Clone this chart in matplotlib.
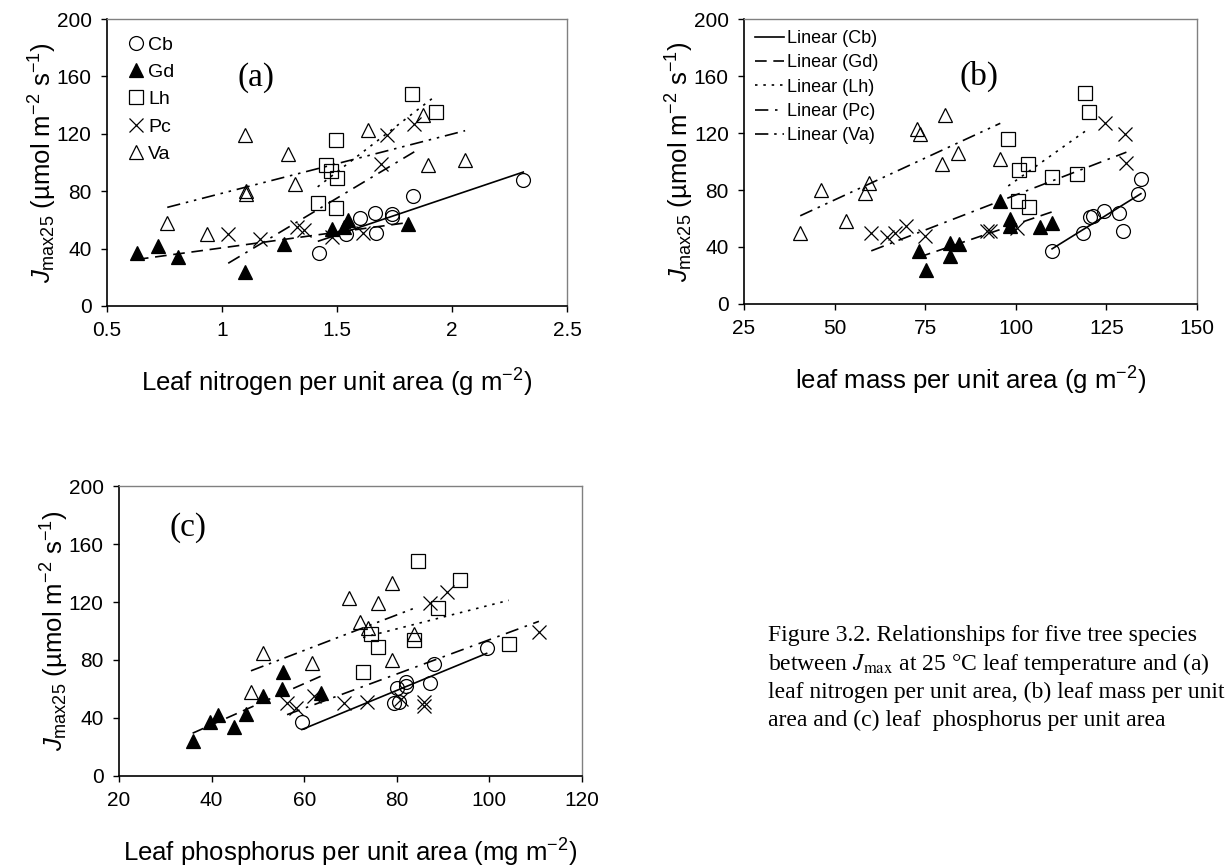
import numpy as np
import matplotlib
matplotlib.use('Agg')
import matplotlib.pyplot as plt
from matplotlib.lines import Line2D

nan = np.nan

# Jmax25 for each species with the matching leaf N (g m-2), LMA (g m-2) and P (mg m-2)
# nan = point not visible in that panel
cb_j = [37, 50, 51, 61, 62, 64, 65, 77, 88]
cb_n = [1.42, 1.54, 1.67, 1.60, 1.74, 1.74, 1.665, 1.83, 2.31]
cb_lma = [110, 118.6, 129.6, 120.4, 121.3, 128.5, 124.3, 133.6, 134.5]
cb_p = [59.5, 79.5, 80.4, 80, 82, 87.2, 82, 88.1, 99.4]

gd_j = [37, 42, 34, 24, 43, 54, 55, 60, 57, 72]
gd_n = [0.63, 0.72, 0.81, 1.10, 1.27, 1.48, 1.53, 1.55, 1.81, nan]
gd_lma = [73.3, 84.3, 81.9, 75.2, 81.9, 106.6, 98.3, 98.3, 109.9, 95.6]
gd_p = [39.6, 41.3, 44.9, 35.9, 47.5, nan, 51.2, 55.1, 63.7, 55.5]

lh_j = [148, 135, 116, 98, 94, 91, 89, 72, 68]
lh_n = [1.825, 1.93, 1.496, 1.452, 1.472, nan, 1.499, 1.416, 1.496]
lh_lma = [119.1, 120.2, 97.9, 103.4, 100.8, 117, 109.9, 100.6, 103.6]
lh_p = [84.6, 93.6, 89.0, 74.5, 83.8, 104.2, 75.9, 72.7, nan]

pc_j = [50, 47, 50, 55, 48, 51, 51, 53, 127, 119, 99]
pc_n = [1.027, 1.165, nan, 1.325, 1.48, 1.614, nan, 1.357, 1.836, 1.716, 1.691]
pc_lma = [60.1, 64.4, 66.7, 69.7, 75, 92, 93, 100.4, 124.5, 130.2, 130.5]
pc_p = [56.3, 58.2, 68.6, 62.1, 85.8, 73.5, 85.8, 81, 90.9, 87.1, 110.7]

va_j = [50, 58, 80, 78, 85, 106, 119, 123, 133, 98, 102]
va_n = [0.933, 0.762, 1.104, 1.104, 1.317, 1.285, 1.1, 1.633, 1.875, 1.897, 2.057]
va_lma = [40.5, 53.1, 46.3, 58.4, 59.6, 84, 73.6, 72.7, 80.5, 79.6, 95.7]
va_p = [nan, 48.5, 79, 61.6, 51.2, 72.1, 76, 69.7, 79, 83.7, 73.8]

species = ['Cb', 'Gd', 'Lh', 'Pc', 'Va']
j_vals = [cb_j, gd_j, lh_j, pc_j, va_j]
n_vals = [cb_n, gd_n, lh_n, pc_n, va_n]
lma_vals = [cb_lma, gd_lma, lh_lma, pc_lma, va_lma]
p_vals = [cb_p, gd_p, lh_p, pc_p, va_p]

yticks = [0, 40, 80, 120, 160, 200]
n_ticks = [0.5, 1, 1.5, 2, 2.5]
n_ticklabels = ['0.5', '1', '1.5', '2', '2.5']
lma_ticks = [25, 50, 75, 100, 125, 150]
p_ticks = [20, 40, 60, 80, 100, 120]

# marker and trendline styles
mk = [dict(marker='o', mfc='none', ms=10),
      dict(marker='^', mfc='black', ms=10),
      dict(marker='s', mfc='none', ms=9.5),
      dict(marker='x', mfc='none', ms=10),
      dict(marker='^', mfc='none', ms=10)]
ls = ['-', (0, (7, 4)), (0, (1.5, 3.5)), (0, (8, 4, 1.5, 4)), (0, (8, 3.5, 1.5, 3.5, 1.5, 3.5))]

plt.rcParams['font.family'] = ['Liberation Sans', 'DejaVu Sans']
plt.rcParams['mathtext.fontset'] = 'custom'
plt.rcParams['mathtext.rm'] = 'Liberation Sans'
plt.rcParams['mathtext.it'] = 'Liberation Sans:italic'

fig = plt.figure(figsize=(12.27, 8.67), dpi=100)
ax_a = fig.add_axes([0.0872, 0.6471, 0.3749, 0.3309])
ax_b = fig.add_axes([0.6064, 0.6494, 0.3692, 0.3286])
ax_c = fig.add_axes([0.0970, 0.1050, 0.3773, 0.3344])

ylab = r'$J_{\mathrm{max25}}$ (µmol m$^{-2}$ s$^{-1}$)'


def panel(ax, xs_all, xlim, xticks, xticklabels, xlabel, tag, tagpos):
    for i in range(5):
        x = np.array(xs_all[i], dtype=float)
        y = np.array(j_vals[i], dtype=float)
        ok = ~np.isnan(x)
        ax.plot(x[ok], y[ok], ls='none', mec='black', mew=0.9, color='black', zorder=2, **mk[i])
        b, a = np.polyfit(x[ok], y[ok], 1)
        xx = np.array([x[ok].min(), x[ok].max()])
        ax.plot(xx, a + b * xx, color='black', lw=1.2, ls=ls[i], zorder=3)
    ax.set_xlim(xlim)
    ax.set_ylim(0, 200)
    ax.set_xticks(xticks)
    ax.set_xticklabels(xticklabels)
    ax.set_yticks(yticks)
    ax.tick_params(direction='out', length=4, width=1, labelsize=15, top=False, right=False, pad=7)
    for s in ['left', 'bottom']:
        ax.spines[s].set_linewidth(1.2)
    for s in ['top', 'right']:
        ax.spines[s].set_color('#808080')
        ax.spines[s].set_linewidth(1)
    ax.set_xlabel(xlabel, fontsize=18.5, labelpad=19)
    ax.set_ylabel(ylab, fontsize=18.5, labelpad=-1.5)
    ax.text(tagpos[0], tagpos[1], tag, fontsize=24, family='Liberation Serif',
            ha='center', va='center')


panel(ax_a, n_vals, (0.5, 2.5), n_ticks, n_ticklabels,
      r'Leaf nitrogen per unit area (g m$^{-2}$)', '(a)', (1.15, 159))
panel(ax_b, lma_vals, (25, 150), lma_ticks, [str(t) for t in lma_ticks],
      r'leaf mass per unit area (g m$^{-2}$)', '(b)', (89.7, 160))
panel(ax_c, p_vals, (20, 120), p_ticks, [str(t) for t in p_ticks],
      r'Leaf phosphorus per unit area (mg m$^{-2}$)', '(c)', (34.8, 171))

# legends
h_a = [Line2D([], [], ls='none', mec='black', mew=0.9, color='black', **mk[i]) for i in range(5)]
ax_a.legend(h_a, species, loc='upper left', bbox_to_anchor=(0.052, 0.941), frameon=False,
            fontsize=14, handlelength=0.5, handletextpad=0.38, labelspacing=0.5,
            borderaxespad=0, borderpad=0)
h_b = [Line2D([], [], color='black', lw=1.2, ls=ls[i]) for i in range(5)]
ax_b.legend(h_b, ['Linear (' + s + ')' for s in species], loc='upper left',
            bbox_to_anchor=(0.025, 0.961), frameon=False, fontsize=13,
            handlelength=1.6, handletextpad=0.15, labelspacing=0.4,
            borderaxespad=0, borderpad=0)

# caption
cap = ['Figure 3.2. Relationships for five tree species',
       r'between $J_{\mathrm{max}}$ at 25 °C leaf temperature and (a)',
       'leaf nitrogen per unit area, (b) leaf mass per unit',
       'area and (c) leaf  phosphorus per unit area']
for k, line in enumerate(cap):
    fig.text(768 / 1227, 1 - (636 + 28 * k) / 867, line, fontsize=17,
             family='Liberation Serif', math_fontfamily='stix', va='center', ha='left')

fig.savefig('out.png', dpi=100)
